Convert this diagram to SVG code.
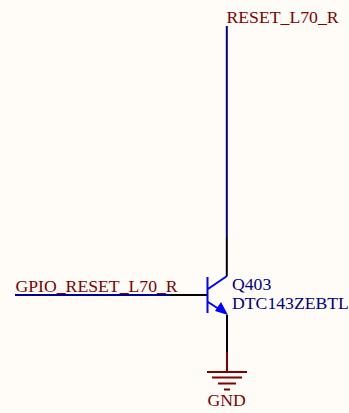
<svg xmlns="http://www.w3.org/2000/svg" width="349" height="413" viewBox="0 0 349 413">
<style>
text{font-family:"Liberation Serif","Times New Roman",serif;font-size:17.700px}
.net{fill:#800000}
.des{fill:#000080}
.w{stroke:#000090;stroke-width:2;fill:none}
.p{stroke:#000;stroke-width:2;fill:none}
.g{stroke:#800000;stroke-width:2;fill:none}
.b{stroke:#0000ff;stroke-width:2;fill:none}
</style>
<rect width="349" height="413" fill="#fffcf8"/>
<g id="connectors">
<path class="w" d="M226.800 26V237"/>
<path class="p" d="M226.800 237V276"/>
<path class="w" d="M15 295H170"/>
<path class="p" d="M170 295H207"/>
<path class="p" d="M227 315V352"/>
<path class="g" d="M227 352V372"/>
</g>
<g id="Q403">
<path class="b" d="M207.500 277V313M208 289L227 276M208 302L222 311"/>
<polygon points="228,315 215,311 221,302" fill="#0000ff"/>
<text class="des" x="232" y="290">Q403</text>
<text class="des" x="232" y="309">DTC143ZEBTL</text>
</g>
<g id="GND">
<path class="g" d="M207 372H247M212 377.500H242M218 383.500H236M224 389.500H230"/>
<text class="net" x="207.500" y="406">GND</text>
</g>
<g id="RESET_L70_R">
<text class="net" x="226.500" y="23">RESET_L70_R</text>
</g>
<g id="GPIO_RESET_L70_R">
<text class="net" x="15.500" y="292">GPIO_RESET_L70_R</text>
</g>
</svg>
